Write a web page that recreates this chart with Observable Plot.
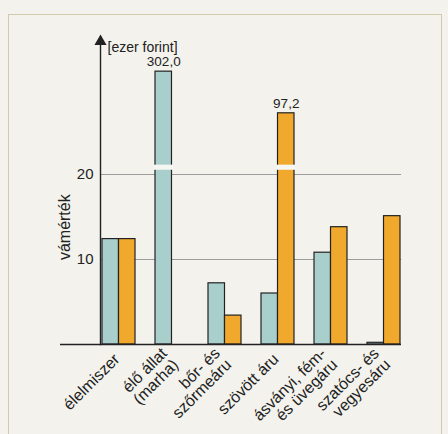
<!DOCTYPE html>
<html><head><meta charset="utf-8">
<script src="https://cdn.jsdelivr.net/npm/d3@7"></script>
<script src="https://cdn.jsdelivr.net/npm/@observablehq/plot@0.6"></script>
<style>
html,body{margin:0;padding:0;background:#f3f2ed;width:448px;height:434px;overflow:hidden;font-family:"Liberation Sans",Arial,sans-serif}
#box{position:absolute;left:8px;top:14px;width:432px;height:440px;border:1px solid #d3c9ad;}
#chart{position:absolute;left:0;top:0}
</style></head><body><div id="box"></div><div id="chart"></div>
<script>
// categories (x tick labels)
const categories = ["élelmiszer", "élő állat\n(marha)", "bőr- és\nszőrmeáru", "szövött áru", "ásványi, fém-\nés üvegáru", "szatócs- és\nvegyesáru"];
// series values [ezer forint]
const seriesTeal = [12.4, 302.0, 7.2, 6.0, 10.8, 0.2];
const seriesOrange = [12.4, 0, 3.4, 97.2, 13.8, 15.1];
// height at which an off-scale bar is cut in the picture (broken bars)
const cutTeal = [null, 32.1, null, null, null, null];
const cutOrange = [null, null, null, 27.2, null, null];
const yTicks = [10, 20];
const yMax = 36;
const breakLevel = 20.8;
const yTitle = "vámérték";
const yUnit = "[ezer forint]";

const W = 448, H = 434, ml = 100, mr = 47, mt = 38, mb = 90;
const pad = 0.384;
const step = (W - ml - mr) / (categories.length - pad);
const bw = step * (1 - pad);

const rowsT = categories.map((c, i) => ({category: c, value: seriesTeal[i], shown: cutTeal[i] ?? seriesTeal[i], broken: cutTeal[i] != null}));
const rowsO = categories.map((c, i) => ({category: c, value: seriesOrange[i], shown: cutOrange[i] ?? seriesOrange[i], broken: cutOrange[i] != null})).filter(d => d.value > 0);
const fmt = v => v.toFixed(1).replace(".", ",");

const teal = "#a9cfcd", orange = "#f0a92c", ink = "#222";

const chart = Plot.plot({
  width: W, height: H,
  marginLeft: ml, marginRight: mr, marginTop: mt, marginBottom: mb,
  style: {background: "transparent", fontFamily: "'Liberation Sans', Arial, sans-serif", fontSize: "14px", color: ink},
  x: {type: "band", domain: categories, paddingInner: pad, paddingOuter: 0, label: null, axis: null},
  y: {domain: [0, yMax], label: null, axis: null},
  marks: [
    Plot.ruleY(yTicks, {stroke: "#9c9c9c", strokeWidth: 1}),
    Plot.barY(rowsT, {x: "category", y: "shown", fill: teal, stroke: ink, strokeWidth: 1.2, insetRight: bw / 2}),
    Plot.barY(rowsO, {x: "category", y: "shown", fill: orange, stroke: ink, strokeWidth: 1.2, insetLeft: bw / 2}),
    Plot.barY(rowsT.filter(d => d.broken), {x: "category", y1: breakLevel - 0.3, y2: breakLevel + 0.3, fill: "#f6f6f2", insetRight: bw / 2 - 1.5, insetLeft: -1.5}),
    Plot.barY(rowsO.filter(d => d.broken), {x: "category", y1: breakLevel - 0.3, y2: breakLevel + 0.3, fill: "#f6f6f2", insetLeft: bw / 2 - 1.5, insetRight: -1.5}),
    Plot.text(rowsT.filter(d => d.broken), {x: "category", y: "shown", text: d => fmt(d.value), dx: -bw / 4, dy: -10, fontSize: 13.5, fill: ink}),
    Plot.text(rowsO.filter(d => d.broken), {x: "category", y: "shown", text: d => fmt(d.value), dx: bw / 4, dy: -10, fontSize: 13.5, fill: ink}),
    Plot.ruleY([0], {stroke: ink, strokeWidth: 1.4, insetLeft: -40}),
    Plot.frame({anchor: "left", stroke: ink, strokeWidth: 1.4}),
    Plot.dot([yMax], {y: d => d, frameAnchor: "left", symbol: "triangle", r: 4.5, fill: ink, stroke: null, dy: 3}),
    // y tick labels
    Plot.text(yTicks, {y: d => d, text: d => String(d), frameAnchor: "left", textAnchor: "end", dx: -7, fontSize: 15, fill: ink}),
    // y title
    Plot.text([{t: yTitle, y: 13.8}], {text: "t", y: "y", frameAnchor: "left", textAnchor: "middle", dx: -36, rotate: -90, fontSize: 16, fill: ink}),
    Plot.text([yUnit], {frameAnchor: "top-left", textAnchor: "start", dx: 7, dy: 4, fontSize: 14, fill: ink}),
    // x tick labels
    Plot.text(categories, {x: d => d, text: d => d, frameAnchor: "bottom", textAnchor: "end", lineAnchor: "middle", rotate: -45, dx: -2, dy: 12, fontSize: 16, lineHeight: 1.0, fill: ink})
  ]
});
document.getElementById("chart").append(chart);
</script></body></html>
